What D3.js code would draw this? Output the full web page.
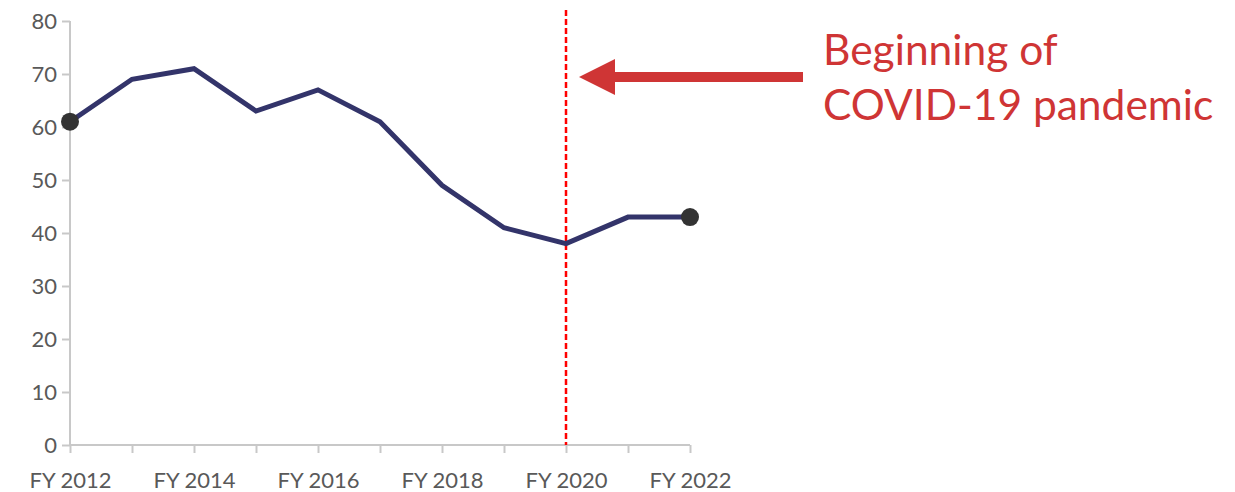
<!DOCTYPE html>
<html>
<head>
<meta charset="utf-8">
<script src="https://cdn.jsdelivr.net/npm/d3@7"></script>
<style>
  body { margin: 0; background: #fff; }
  text { font-family: Lato, "Open Sans", sans-serif; }
</style>
</head>
<body>
<script>
var years = [2012, 2013, 2014, 2015, 2016, 2017, 2018, 2019, 2020, 2021, 2022];
var values = [61, 69, 71, 63, 67, 61, 49, 41, 38, 43, 43];
var yTicks = [0, 10, 20, 30, 40, 50, 60, 70, 80];
var labelYears = [2012, 2014, 2016, 2018, 2020, 2022];
var covidYear = 2020;
var noteLines = ["Beginning of", "COVID-19 pandemic"];

var width = 1235, height = 492;

var svg = d3.select("body").append("svg")
    .attr("width", width)
    .attr("height", height);

var x = d3.scaleLinear().domain([2012, 2022]).range([70, 690]);
var y = d3.scaleLinear().domain([0, 80]).range([445, 21]);

// y axis
var yAxis = svg.append("g")
    .attr("transform", "translate(70,0)")
    .call(d3.axisLeft(y).tickValues(yTicks).tickSize(8).tickPadding(5));
yAxis.selectAll("text")
    .style("font-size", "22px")
    .style("fill", "#595959");

// x axis
var xAxis = svg.append("g")
    .attr("transform", "translate(0,445)")
    .call(d3.axisBottom(x).tickValues(years).tickSize(8).tickPadding(19)
        .tickFormat(function(d) { return labelYears.indexOf(d) >= 0 ? "FY " + d : ""; }));
xAxis.selectAll("text")
    .style("font-size", "22px")
    .style("fill", "#595959");

svg.selectAll(".domain, .tick line")
    .attr("stroke", "#c8c8c8")
    .attr("stroke-width", 2);
yAxis.select(".domain").attr("d", "M0,21V445");
xAxis.select(".domain").attr("d", "M70,0H690");

// covid line
svg.append("line")
    .attr("x1", x(covidYear)).attr("x2", x(covidYear))
    .attr("y1", 10).attr("y2", 445)
    .attr("stroke", "#ff0000")
    .attr("stroke-width", 2.5)
    .attr("stroke-dasharray", "6 3");

// data line
var line = d3.line()
    .x(function(d, i) { return x(years[i]); })
    .y(function(d) { return y(d); });

svg.append("path")
    .datum(values)
    .attr("d", line)
    .attr("fill", "none")
    .attr("stroke", "#33346a")
    .attr("stroke-width", 5)
    .attr("stroke-linejoin", "miter");

// end dots
svg.selectAll(".dot")
    .data([0, values.length - 1])
    .enter().append("circle")
    .attr("cx", function(i) { return x(years[i]); })
    .attr("cy", function(i) { return y(values[i]); })
    .attr("r", 9)
    .attr("fill", "#333333");

// arrow
var arrowY = 77;
var tipX = x(covidYear) + 13;
svg.append("rect")
    .attr("x", tipX + 34).attr("y", arrowY - 5)
    .attr("width", 803 - tipX - 34).attr("height", 10)
    .attr("fill", "#cf3535");
svg.append("path")
    .attr("d", "M" + tipX + "," + arrowY + "L" + (tipX + 36) + "," + (arrowY - 18) +
               "L" + (tipX + 36) + "," + (arrowY + 18) + "Z")
    .attr("fill", "#cf3535");

// annotation
svg.append("text")
    .attr("x", 823)
    .attr("y", 65)
    .style("font-size", "42.5px")
    .style("fill", "#cf3535")
    .selectAll("tspan")
    .data(noteLines)
    .enter().append("tspan")
    .attr("x", 823)
    .attr("dy", function(d, i) { return i === 0 ? 0 : 55; })
    .text(function(d) { return d; });
</script>
</body>
</html>
